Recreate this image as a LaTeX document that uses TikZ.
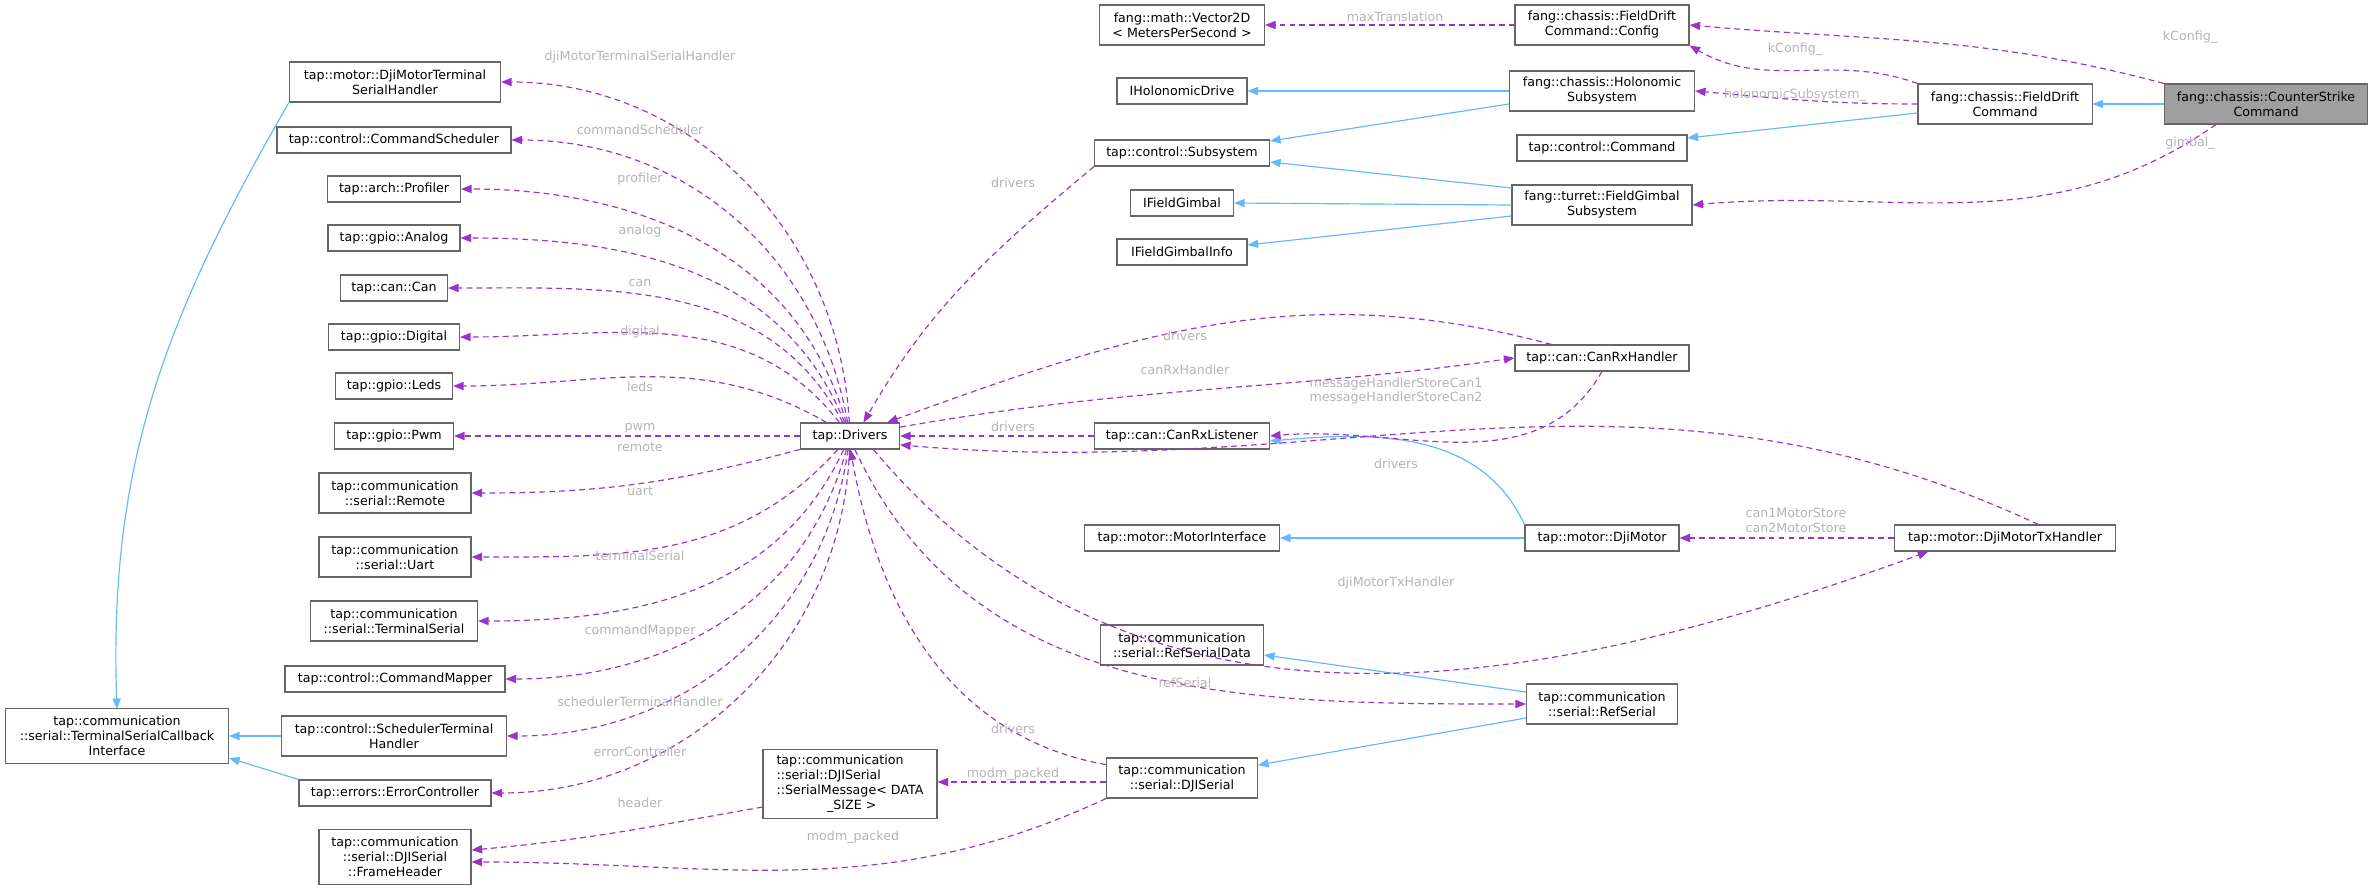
\documentclass[tikz,border=0pt]{standalone}
\usepackage{fontspec}
\setmainfont{DejaVu Sans}
\usetikzlibrary{positioning,arrows.meta}
\definecolor{usecol}{HTML}{9A32CD}
\definecolor{inhcol}{HTML}{63B8FF}
\definecolor{boxcol}{HTML}{666666}
\definecolor{lblcol}{HTML}{B4B4B4}

\begin{document}
\begin{tikzpicture}[
x=0.03cm, y=-0.03cm,
cls/.style={
    draw=boxcol,
    fill=white,
    line width=0.9pt,
    align=center,
    inner sep=2pt,
    font=\fontsize{10.8}{12.8}\selectfont,
    minimum height=0.78cm
},
two/.style={minimum height=1.2cm},
three/.style={minimum height=1.65cm},
uses/.style={
    draw=usecol,
    line width=1pt,
    dash pattern=on 5pt off 3.5pt,
    -{Triangle[length=9pt,width=7pt]}
},
inh/.style={
    draw=inhcol,
    line width=1pt,
    -{Triangle[length=9pt,width=7pt]}
},
lbl/.style={
    text=lblcol,
    align=center,
    inner sep=0pt,
    font=\fontsize{10.8}{12.8}\selectfont
}
]
\useasboundingbox (0,0) rectangle (2373,890);

% left column
\node[cls, two, minimum width=6.33cm] (dmtsh) at (395,82) {tap::motor::DjiMotorTerminal\\SerialHandler};
\node[cls, minimum width=7.02cm] (sched) at (394,140) {tap::control::CommandScheduler};
\node[cls, minimum width=3.99cm] (prof) at (394,189) {tap::arch::Profiler};
\node[cls, minimum width=3.96cm] (analog) at (394,238) {tap::gpio::Analog};
\node[cls, minimum width=3.21cm] (can) at (394,288) {tap::can::Can};
\node[cls, minimum width=3.93cm] (digital) at (394,337) {tap::gpio::Digital};
\node[cls, minimum width=3.51cm] (leds) at (394,386) {tap::gpio::Leds};
\node[cls, minimum width=3.57cm] (pwm) at (394,436) {tap::gpio::Pwm};
\node[cls, two, minimum width=4.56cm] (remote) at (395,493) {tap::communication\\::serial::Remote};
\node[cls, two, minimum width=4.56cm] (uart) at (395,557) {tap::communication\\::serial::Uart};
\node[cls, two, minimum width=5.01cm] (tserial) at (394,621) {tap::communication\\::serial::TerminalSerial};
\node[cls, minimum width=6.6cm] (cmap) at (395,679) {tap::control::CommandMapper};
\node[cls, two, minimum width=6.75cm] (schth) at (394,736) {tap::control::SchedulerTerminal\\Handler};
\node[cls, minimum width=5.76cm] (errc) at (395,793) {tap::errors::ErrorController};
\node[cls, three, minimum width=4.56cm] (fhead) at (395,857) {tap::communication\\::serial::DJISerial\\::FrameHeader};
\node[cls, three, minimum width=6.69cm] (tsci) at (117,736) {tap::communication\\::serial::TerminalSerialCallback\\Interface};

% middle
\node[cls, minimum width=2.97cm] (drv) at (850,436) {tap::Drivers};
\node[cls, minimum width=5.22cm, minimum height=2.07cm, align=left] (smsg) at (850,784) {tap::communication\\::serial::DJISerial\\::SerialMessage< DATA\\\quad\quad\quad\quad\_SIZE >};

% right part
\node[cls, two, minimum width=4.95cm] (vec) at (1182,25) {fang::math::Vector2D\\< MetersPerSecond >};
\node[cls, two, minimum width=5.22cm] (cfg) at (1602,25) {fang::chassis::FieldDrift\\Command::Config};
\node[cls, minimum width=3.9cm] (ihd) at (1182,91) {IHolonomicDrive};
\node[cls, two, minimum width=5.55cm] (hol) at (1602,91) {fang::chassis::Holonomic\\Subsystem};
\node[cls, minimum width=5.25cm] (subsys) at (1182,153) {tap::control::Subsystem};
\node[cls, minimum width=5.1cm] (cmd) at (1602,148) {tap::control::Command};
\node[cls, two, minimum width=5.22cm] (fdc) at (2005,104) {fang::chassis::FieldDrift\\Command};
\node[cls, two, minimum width=6.09cm, fill=gray!75] (csc) at (2266,104) {fang::chassis::CounterStrike\\Command};
\node[cls, minimum width=3.09cm] (ifg) at (1182,203) {IFieldGimbal};
\node[cls, two, minimum width=5.4cm] (fgs) at (1602,205) {fang::turret::FieldGimbal\\Subsystem};
\node[cls, minimum width=3.9cm] (ifgi) at (1182,252) {IFieldGimbalInfo};
\node[cls, minimum width=5.22cm] (crh) at (1602,358) {tap::can::CanRxHandler};
\node[cls, minimum width=5.25cm] (crl) at (1182,436) {tap::can::CanRxListener};
\node[cls, minimum width=5.85cm] (mif) at (1182,538) {tap::motor::MotorInterface};
\node[cls, minimum width=4.62cm] (djim) at (1602,538) {tap::motor::DjiMotor};
\node[cls, minimum width=6.63cm] (dmth) at (2005,538) {tap::motor::DjiMotorTxHandler};
\node[cls, two, minimum width=4.89cm] (rsd) at (1182,645) {tap::communication\\::serial::RefSerialData};
\node[cls, two, minimum width=4.53cm] (refs) at (1602,704) {tap::communication\\::serial::RefSerial};
\node[cls, two, minimum width=4.53cm] (djis) at (1182,778) {tap::communication\\::serial::DJISerial};

% inheritance
\draw[inh] (csc) -- (fdc);
\draw[inh] (fdc.west |- 0,113) -- (cmd.east |- 0,138);
\draw[inh] (hol.west) -- (ihd.east |- hol.west);
\draw[inh] (hol.west |- 0,104) -- (subsys.east |- 0,141);
\draw[inh] (fgs.west |- 0,188) -- (subsys.east |- 0,162);
\draw[inh] (fgs.west) -- (ifg.east);
\draw[inh] (fgs.west |- 0,216) -- (ifgi.east |- 0,245);
\draw[inh] (djim) -- (mif);
\draw[inh] (djim.north west) to[out=115,in=5] (crl.east |- 0,441);
\draw[inh] (refs.west |- 0,692) -- (rsd.east |- 0,655);
\draw[inh] (refs.west |- 0,718) -- (djis.east |- 0,765);
\draw[inh] (dmtsh.south west) to[out=240,in=92] (tsci.north |- 0,709);
\draw[inh] (schth.west) -- (tsci.east |- schth.west);
\draw[inh] (errc.north west) -- (tsci.east |- 0,758);

% drivers to left column
\foreach \nd/\lb/\ly/\ang in {dmtsh/djiMotorTerminalSerialHandler/57/93, sched/commandScheduler/130/100,
    prof/profiler/179/106, analog/analog/231/112, can/can/283/118, digital/digital/332/128, leds/leds/387/150}
    \draw[uses] (drv.\ang) to[out=\ang,in=0] (\nd.east) node[lbl] at (640,\ly) {\lb};
\draw[uses] (drv.west) -- (pwm.east) node[lbl] at (640,428) {pwm};
\foreach \nd/\lb/\ly/\ang in {remote/remote/447/195, uart/uart/491/228, tserial/terminalSerial/556/245,
    cmap/commandMapper/631/255, schth/schedulerTerminalHandler/702/262, errc/errorController/752/268}
    \draw[uses] (drv.\ang) to[out=\ang,in=0] (\nd.east) node[lbl] at (640,\ly) {\lb};

% drivers to right part
\draw[uses] (subsys.south west) to[out=220,in=60] (drv.45) node[lbl] at (1013,183) {drivers};
\draw[uses] (crh.165) to[out=165,in=20] (drv.20) node[lbl] at (1185,336) {drivers};
\draw[uses] (drv.10) to[out=10,in=188] (crh.west) node[lbl] at (1185,370) {canRxHandler};
\draw[uses] (crh.south) to[out=240,in=5] (crl.east) node[lbl] at (1396,391) {messageHandlerStoreCan1\\messageHandlerStoreCan2};
\draw[uses] (crl.west) -- (drv.east) node[lbl] at (1013,427) {drivers};
\draw[uses] ([xshift=1cm]dmth.north) to[out=155,in=-5] (drv.-10) node[lbl] at (1396,464) {drivers};
\draw[uses] (drv.-30) to[out=-50,in=200] ([xshift=-2.3cm]dmth.south) node[lbl] at (1396,583) {djiMotorTxHandler};
\draw[uses] (dmth.west) -- (djim.east) node[lbl] at (1796,520) {can1MotorStore\\can2MotorStore};
\draw[uses] (drv.-70) to[out=-65,in=180] (refs.west) node[lbl] at (1185,683) {refSerial};
\draw[uses] (djis.170) to[out=170,in=-80] (drv.-88) node[lbl] at (1013,729) {drivers};
\draw[uses] (djis.west |- 0,782) -- (smsg.east |- 0,782) node[lbl] at (1013,774) {modm\_packed};
\draw[uses] (djis.south west) to[out=205,in=0] (fhead.east |- 0,862) node[lbl] at (853,837) {modm\_packed};
\draw[uses] (smsg.west |- 0,807) to[out=190,in=5] (fhead.east |- 0,850) node[lbl] at (640,803) {header};

% top right
\draw[uses] (cfg.west) -- (vec.east) node[lbl] at (1395,17) {maxTranslation};
\draw[uses] (fdc.north west) to[out=160,in=-30] (cfg.south east) node[lbl] at (1795,49) {kConfig\_};
\draw[uses] (csc.north west) to[out=165,in=-5] (cfg.east) node[lbl] at (2190,37) {kConfig\_};
\draw[uses] (fdc.west) to[out=180,in=-5] (hol.east) node[lbl] at (1795,95) {holonomicSubsystem\_};
\draw[uses] ([xshift=-1.5cm]csc.south) to[out=215,in=5] (fgs.east) node[lbl] at (2190,143) {gimbal\_};
\end{tikzpicture}
\end{document}
